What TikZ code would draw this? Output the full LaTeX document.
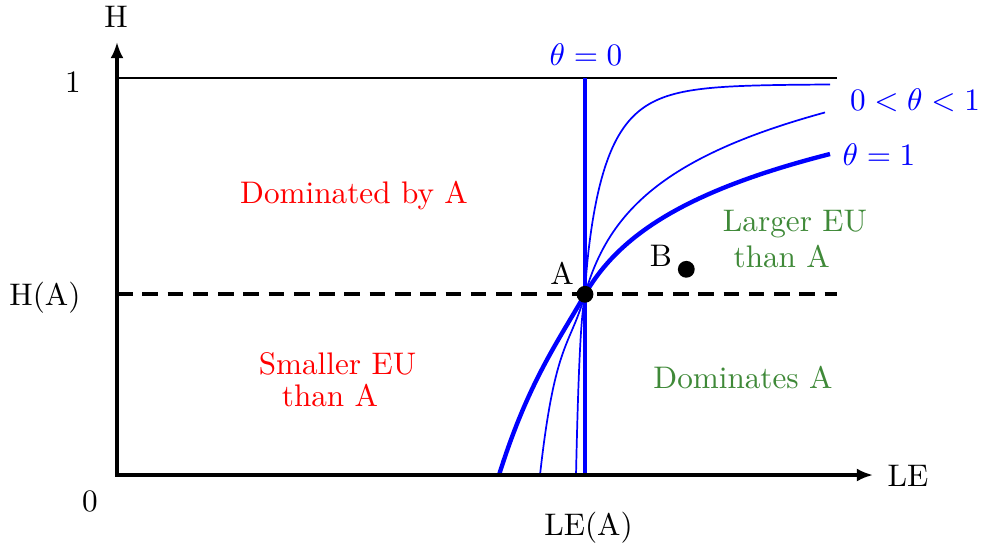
\documentclass[tikz,border=0pt]{standalone}
\usetikzlibrary{arrows.meta}
\definecolor{eugreen}{RGB}{63,137,56}
\begin{document}
\begin{tikzpicture}[x=0.3205pt,y=-0.3205pt,
  axisline/.style={line width=1pt},
  reftop/.style={line width=0.6pt},
  dashline/.style={line width=1.4pt, dash pattern=on 5pt off 3.1pt},
  thetathick/.style={blue, line width=1.4pt},
  thetathin/.style={blue, line width=0.55pt},
  lbl/.style={anchor=base, inner sep=0pt},
  twoline/.style={align=center, inner sep=0pt},
  dot/.style={circle, fill=black, inner sep=0pt, minimum size=5.4pt}]
\useasboundingbox (0,0) rectangle (983,546);
% coordinates
\coordinate (O) at (117,475);
\coordinate (Ytip) at (117,42);
\coordinate (Xtip) at (873,475);
\coordinate (Htop) at (117,78);
\coordinate (Hend) at (837,78);
\coordinate (HAl) at (117,294.3);
\coordinate (HAr) at (837,294.3);
\coordinate (Vtop) at (585,78);
\coordinate (Vbot) at (585,475);
% reference lines
\draw[reftop] (Htop) -- (Hend);
\draw[dashline] (HAl) -- (HAr);
% curves 0 < theta < 1
\draw[thetathin]
  plot[domain=576:585, samples=40] (\x,{294.3+6.36*(585-\x)+0.203*(585-\x)^2+0.1472*(585-\x)^3})
  -- plot[domain=585.05:830, samples=200] (\x,{294.3-210*(1-exp(-((\x-585)/21.9)^0.8))});
\draw[thetathin]
  plot[domain=540:585, samples=50] (\x,{294.3+35.5*((585-\x)/10)-8.988*((585-\x)/10)^2+2.227*((585-\x)/10)^3})
  -- plot[domain=585:825, samples=150] (\x,{294.3-70.9*ln(1+(\x-585)/20)});
% theta = 1
\draw[thetathick]
  plot[domain=499:585, samples=60] (\x,{294.3+17.4*((585-\x)/10)-0.42*((585-\x)/10)^2+0.0977*((585-\x)/10)^3})
  -- plot[domain=585:830, samples=150] (\x,{294.3-73*ln(1+(\x-585)/42)});
% theta = 0
\draw[thetathick] (Vtop) -- (Vbot);
% axes
\draw[axisline, {Latex[length=5.2pt,width=4.2pt]}-{Latex[length=5.2pt,width=4.2pt]}] (Ytip) -- (O) -- (Xtip);
% points
\node[dot] (A) at (585,294.3) {};
\node[dot] (B) at (686.3,269.3) {};
% labels
\node[lbl] (Hlab) at (116,27) {H};
\node[lbl] (one) at (73,92) {1};
\node[lbl] (HA) at (45,305) {H(A)};
\node[lbl] (zero) at (90,511) {0};
\node[lbl] (LElab) at (908,486.5) {LE};
\node[lbl] (LEA) at (588.5,535) {LE(A)};
\node[lbl, blue] (t0) at (586,65.5) {$\theta=0$};
\node[lbl, blue] (tmid) at (915,110.5) {$0<\theta<1$};
\node[lbl, blue] (t1) at (879,165) {$\theta=1$};
\node[lbl, red] (dom) at (354,203.3) {Dominated by A};
\node[twoline, red] (smaller) at (337.5,380) {Smaller EU\\[-1.84pt]than A\hspace*{4.8pt}};
\node[twoline, eugreen] (larger) at (795,238.9) {Larger EU\\[-0.46pt]than A\hspace*{8.5pt}};
\node[lbl, eugreen] (doms) at (743,388.3) {Dominates A};
\node[lbl] (Alab) at (562,284) {A};
\node[lbl] (Blab) at (661,266) {B};
\end{tikzpicture}
\end{document}
